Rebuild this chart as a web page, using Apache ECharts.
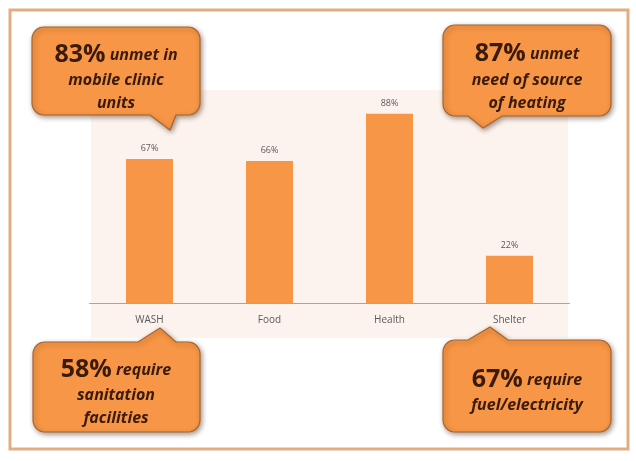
<!DOCTYPE html>
<html><head><meta charset="utf-8">
<script src="https://cdn.jsdelivr.net/npm/echarts@6/dist/echarts.min.js"></script>
<style>html,body{margin:0;padding:0;background:#fff}#c{width:636px;height:461px}</style>
</head><body><div id="c"></div>
<script>
const categories = ['WASH', 'Food', 'Health', 'Shelter'];
const values = [67, 66, 88, 22];
const calloutTL = ['83%', ' unmet in', 'mobile clinic', 'units'];
const calloutTR = ['87%', ' unmet', 'need of source', 'of heating'];
const calloutBL = ['58%', ' require', 'sanitation', 'facilities'];
const calloutBR = ['67%', ' require', 'fuel/electricity'];

function arc(pts, cx, cy, r, a0, a1) {
  const n = 8;
  for (let i = 0; i <= n; i++) {
    const a = a0 + (a1 - a0) * i / n;
    pts.push([cx + r * Math.cos(a), cy + r * Math.sin(a)]);
  }
}
function bubble(x, y, w, h, r, side, b0, b1, tx, ty) {
  const x1 = x + w, y1 = y + h, P = Math.PI;
  const pts = [];
  arc(pts, x + r, y + r, r, P, 1.5 * P);
  if (side === 'top') { pts.push([b0, y], [tx, ty], [b1, y]); }
  arc(pts, x1 - r, y + r, r, 1.5 * P, 2 * P);
  arc(pts, x1 - r, y1 - r, r, 0, 0.5 * P);
  if (side === 'bottom') { pts.push([b1, y1], [tx, ty], [b0, y1]); }
  arc(pts, x + r, y1 - r, r, 0.5 * P, P);
  return {
    type: 'polygon', shape: { points: pts },
    style: { fill: '#F79646', stroke: '#A8632F', lineWidth: 1.2,
      shadowBlur: 5, shadowColor: 'rgba(60,30,10,0.45)', shadowOffsetX: 1.5, shadowOffsetY: 2 }
  };
}
const rich = {
  big: { fontSize: 25, fontWeight: 'bold', fill: '#3A1A08', fontFamily: 'Open Sans' },
  it: { fontSize: 16, fontWeight: 'bold', fontStyle: 'italic', fill: '#3A1A08', fontFamily: 'Open Sans' }
};
function line(x, y, text) {
  return { type: 'text', x: x, y: y, z: 10,
    style: { text: text, rich: rich, fill: '#3A1A08', fontFamily: 'Open Sans', align: 'center', verticalAlign: 'middle' } };
}
function calloutText(cx, ys, arr) {
  const out = [line(cx, ys[0], '{big|' + arr[0] + '}{it|' + arr[1] + '}')];
  for (let i = 2; i < arr.length; i++) out.push(line(cx, ys[i - 1], '{it|' + arr[i] + '}'));
  return out;
}

const chart = echarts.init(document.getElementById('c'), null, { renderer: 'canvas' });
chart.setOption({
  animation: false,
  backgroundColor: '#ffffff',
  graphic: [
    { type: 'rect', z: -10, shape: { x: 10, y: 10, width: 618, height: 439 },
      style: { fill: '#ffffff', stroke: '#E3AD82', lineWidth: 3 } },
    { type: 'rect', z: -9, shape: { x: 91, y: 90, width: 477, height: 248 },
      style: { fill: '#FDF3EE' } },
    bubble(32, 27, 168, 88, 12, 'bottom', 150, 176, 170, 130),
    bubble(443, 25, 168, 91, 12, 'bottom', 468, 502, 483, 128),
    bubble(33, 342, 167, 90, 12, 'top', 138, 176, 160, 328),
    bubble(443, 340, 168, 92, 12, 'top', 468, 508, 490, 327),
    ...calloutText(116, [55, 80, 103], calloutTL),
    ...calloutText(527, [54, 80, 103], calloutTR),
    ...calloutText(116, [370, 395, 418], calloutBL),
    ...calloutText(527, [380, 405], calloutBR)
  ],
  grid: { left: 89.5, right: 66.5, top: 88, bottom: 158 },
  xAxis: {
    type: 'category', data: categories,
    axisLine: { lineStyle: { color: '#A6A6A6', width: 1 } },
    axisTick: { show: false },
    axisLabel: { color: '#595959', fontSize: 10, fontFamily: 'Open Sans', margin: 12 }
  },
  yAxis: { type: 'value', min: 0, max: 100, show: false, splitLine: { show: false } },
  series: [{
    type: 'bar', data: values, barWidth: 47,
    itemStyle: { color: '#F79646' },
    label: { show: true, position: 'top', formatter: '{c}%', color: '#595959', fontSize: 9, fontFamily: 'Open Sans', distance: 6 }
  }]
});
</script></body></html>
